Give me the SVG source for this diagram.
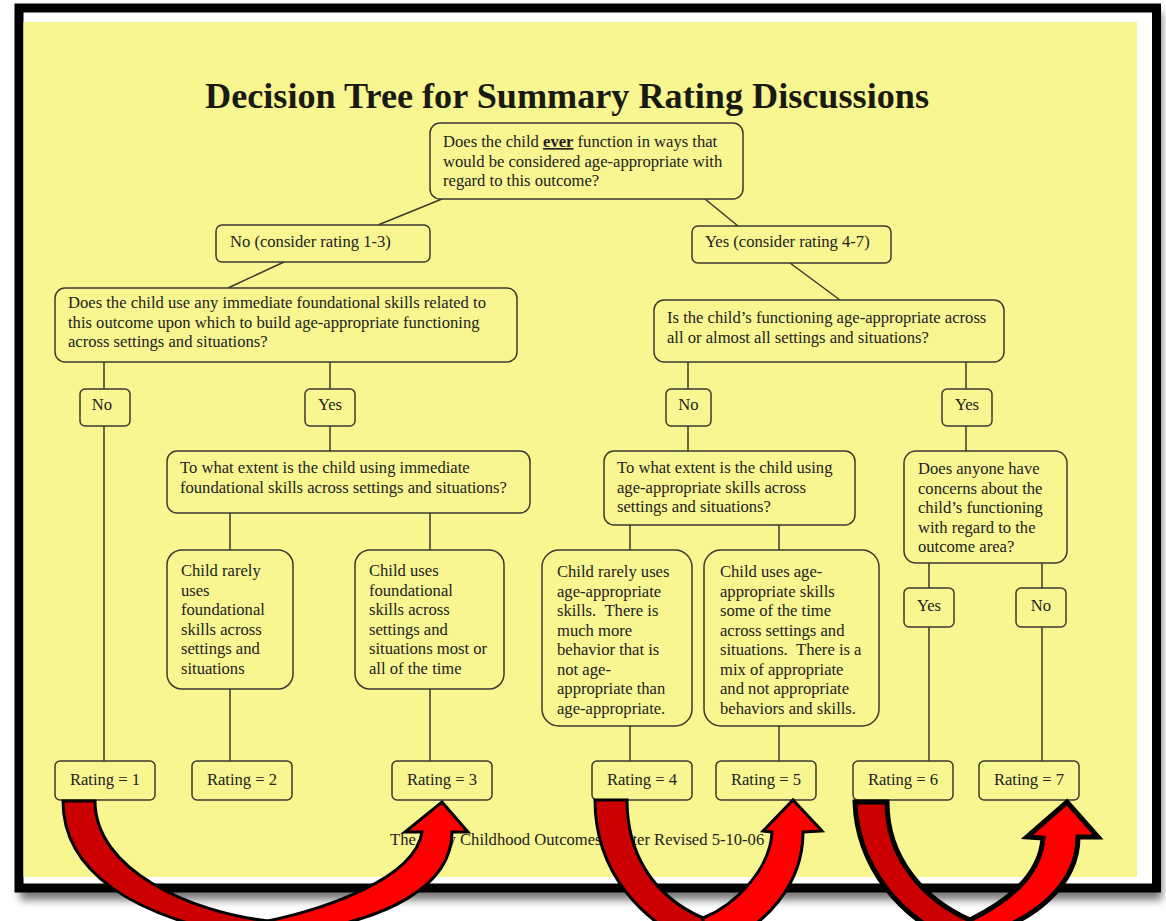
<svg xmlns="http://www.w3.org/2000/svg" width="1166" height="921" viewBox="0 0 1166 921">
<defs>
<style>
.t{font-family:"Liberation Serif","Times New Roman",serif;font-size:16.6px;fill:#222;}
.c{text-anchor:middle;}
.b{fill:#f8f690;stroke:#3a3a30;stroke-width:1.5;}
.ln{stroke:#3a3a30;stroke-width:1.5;fill:none;}
.dk{fill:#cc0000;stroke:#000;stroke-width:3;stroke-linejoin:miter;}
.br{fill:#ff0000;stroke:#000;stroke-width:3;stroke-linejoin:miter;}
</style>
<filter id="sh" x="-5%" y="-5%" width="110%" height="110%"><feGaussianBlur stdDeviation="4"/></filter>
</defs>
<rect width="1166" height="921" fill="#fff"/>
<rect x="20" y="12" width="1142" height="888" fill="#777" filter="url(#sh)"/>
<rect x="19" y="8" width="1137.5" height="880" fill="#fff" stroke="#000" stroke-width="9"/>
<rect x="23.5" y="22" width="1113.5" height="855" fill="#f8f690"/>
<text class="t c" x="567" y="108" textLength="724" lengthAdjust="spacingAndGlyphs" style="font-size:35.5px;font-weight:bold;fill:#1a1a14">Decision Tree for Summary Rating Discussions</text>

<g id="connectors">
<path class="ln" d="M442,199 L378,225 M705,199 L738,226 M284,262 L228,288 M790,263 L840,300"/>
<path class="ln" d="M104,362 V389 M330,362 V389 M104,426 V761 M330,426 V451 M230,513 V550 M430,513 V550 M230,689 V761 M430,689 V761"/>
<path class="ln" d="M688,362 V389 M966,362 V389 M688,426 V451 M966,426 V451 M630,525 V550 M779,525 V550 M630,726 V761 M779,726 V761 M929,563 V588 M1042,563 V588 M929,627 V761 M1042,627 V761"/>
</g>

<g id="n-top"><rect class="b" x="430" y="123" width="313" height="76" rx="10"/>
<text class="t" x="443" y="147">Does the child <tspan style="font-weight:bold;text-decoration:underline">ever</tspan> function in ways that</text>
<text class="t" x="443" y="166.5">would be considered age-appropriate with</text>
<text class="t" x="443" y="186">regard to this outcome?</text></g>

<g id="n-no13"><rect class="b" x="216" y="225" width="214" height="37" rx="6"/>
<text class="t" x="230" y="247">No (consider rating 1-3)</text></g>
<g id="n-yes47"><rect class="b" x="692" y="226" width="199" height="37" rx="6"/>
<text class="t" x="705" y="247">Yes (consider rating 4-7)</text></g>

<g id="n-q-left"><rect class="b" x="55" y="288" width="462" height="74" rx="10"/>
<text class="t" x="68" y="308">Does the child use any immediate foundational skills related to</text>
<text class="t" x="68" y="327.5">this outcome upon which to build age-appropriate functioning</text>
<text class="t" x="68" y="347">across settings and situations?</text></g>

<g id="n-q-right"><rect class="b" x="654" y="300" width="350" height="62" rx="10"/>
<text class="t" x="667" y="323">Is the child’s functioning age-appropriate across</text>
<text class="t" x="667" y="342.5">all or almost all settings and situations?</text></g>

<g id="n-no-a"><rect class="b" x="80" y="389" width="50" height="37" rx="5"/><text class="t c" x="102" y="410">No</text></g>
<g id="n-yes-a"><rect class="b" x="305" y="389" width="50" height="37" rx="5"/><text class="t c" x="330" y="410">Yes</text></g>
<g id="n-no-b"><rect class="b" x="666" y="389" width="45" height="37" rx="5"/><text class="t c" x="688.5" y="410">No</text></g>
<g id="n-yes-b"><rect class="b" x="942" y="389" width="50" height="37" rx="5"/><text class="t c" x="967" y="410">Yes</text></g>

<g id="n-ext-left"><rect class="b" x="167" y="451" width="363" height="62" rx="10"/>
<text class="t" x="180" y="473">To what extent is the child using immediate</text>
<text class="t" x="180" y="492.5">foundational skills across settings and situations?</text></g>

<g id="n-ext-right"><rect class="b" x="604" y="451" width="251" height="74" rx="10"/>
<text class="t" x="617" y="473">To what extent is the child using</text>
<text class="t" x="617" y="492.5">age-appropriate skills across</text>
<text class="t" x="617" y="512">settings and situations?</text></g>

<g id="n-concerns"><rect class="b" x="904" y="451" width="163" height="112" rx="12"/>
<text class="t" x="918" y="474">Does anyone have</text>
<text class="t" x="918" y="493.5">concerns about the</text>
<text class="t" x="918" y="513">child’s functioning</text>
<text class="t" x="918" y="532.5">with regard to the</text>
<text class="t" x="918" y="552">outcome area?</text></g>

<g id="n-rare-found"><rect class="b" x="167" y="550" width="126" height="139" rx="15"/>
<text class="t" x="181" y="576">Child rarely</text>
<text class="t" x="181" y="595.5">uses</text>
<text class="t" x="181" y="615">foundational</text>
<text class="t" x="181" y="634.5">skills across</text>
<text class="t" x="181" y="654">settings and</text>
<text class="t" x="181" y="673.5">situations</text></g>

<g id="n-uses-found"><rect class="b" x="355" y="550" width="149" height="139" rx="15"/>
<text class="t" x="369" y="576">Child uses</text>
<text class="t" x="369" y="595.5">foundational</text>
<text class="t" x="369" y="615">skills across</text>
<text class="t" x="369" y="634.5">settings and</text>
<text class="t" x="369" y="654">situations most or</text>
<text class="t" x="369" y="673.5">all of the time</text></g>

<g id="n-rare-age"><rect class="b" x="542" y="550" width="150" height="176" rx="17"/>
<text class="t" x="557" y="577">Child rarely uses</text>
<text class="t" x="557" y="596.5">age-appropriate</text>
<text class="t" x="557" y="616">skills. &#160;There is</text>
<text class="t" x="557" y="635.5">much more</text>
<text class="t" x="557" y="655">behavior that is</text>
<text class="t" x="557" y="674.5">not age-</text>
<text class="t" x="557" y="694">appropriate than</text>
<text class="t" x="557" y="713.5">age-appropriate.</text></g>

<g id="n-uses-age"><rect class="b" x="704" y="550" width="175" height="176" rx="17"/>
<text class="t" x="720" y="577">Child uses age-</text>
<text class="t" x="720" y="596.5">appropriate skills</text>
<text class="t" x="720" y="616">some of the time</text>
<text class="t" x="720" y="635.5">across settings and</text>
<text class="t" x="720" y="655">situations. &#160;There is a</text>
<text class="t" x="720" y="674.5">mix of appropriate</text>
<text class="t" x="720" y="694">and not appropriate</text>
<text class="t" x="720" y="713.5">behaviors and skills.</text></g>

<g id="n-yes-c"><rect class="b" x="904" y="588" width="50" height="39" rx="5"/><text class="t c" x="929" y="611">Yes</text></g>
<g id="n-no-c"><rect class="b" x="1016" y="588" width="50" height="39" rx="5"/><text class="t c" x="1041" y="611">No</text></g>

<g id="n-r1"><rect class="b" x="55" y="761" width="100" height="39" rx="5"/><text class="t c" x="105" y="785">Rating = 1</text></g>
<g id="n-r2"><rect class="b" x="192" y="761" width="100" height="39" rx="5"/><text class="t c" x="242" y="785">Rating = 2</text></g>
<g id="n-r3"><rect class="b" x="392" y="761" width="100" height="39" rx="5"/><text class="t c" x="442" y="785">Rating = 3</text></g>
<g id="n-r4"><rect class="b" x="592" y="761" width="100" height="39" rx="5"/><text class="t c" x="642" y="785">Rating = 4</text></g>
<g id="n-r5"><rect class="b" x="716" y="761" width="100" height="39" rx="5"/><text class="t c" x="766" y="785">Rating = 5</text></g>
<g id="n-r6"><rect class="b" x="853" y="761" width="100" height="39" rx="5"/><text class="t c" x="903" y="785">Rating = 6</text></g>
<g id="n-r7"><rect class="b" x="979" y="761" width="100" height="39" rx="5"/><text class="t c" x="1029" y="785">Rating = 7</text></g>

<text class="t" x="390" y="845">The Early Childhood Outcomes Center Revised 5-10-06</text>

<g id="arrow-1">
<path class="dk" d="M63,801 C63,870 130,918 255,938 L268,921 C190,912 95,870 95,801 Z"/>
<path class="br" d="M268,921 C320,910 415,880 422,832 L405,832 L442,802 L468,832 L452,832 C452,880 400,925 255,938 Z"/>
</g>
<g id="arrow-2">
<path class="dk" d="M595,800 C595,870 640,925 706,948 L703,918 C650,895 627,850 627,800 Z"/>
<path class="br" d="M703,918 C735,905 770,870 772,832 L763,831 L793,800 L822,831 L803,832 C803,880 770,930 706,948 Z"/>
</g>
<g id="arrow-3">
<path class="dk" style="stroke-width:5" d="M855,802 C857,865 900,920 958,941 L970,920 C925,900 887,860 887,802 Z"/>
<path class="br" style="stroke-width:5" d="M970,920 C1000,905 1040,880 1043,838 L1027,837 L1067,802 L1098,837 L1078,837 C1078,880 1040,925 958,941 Z"/>
</g>
</svg>
